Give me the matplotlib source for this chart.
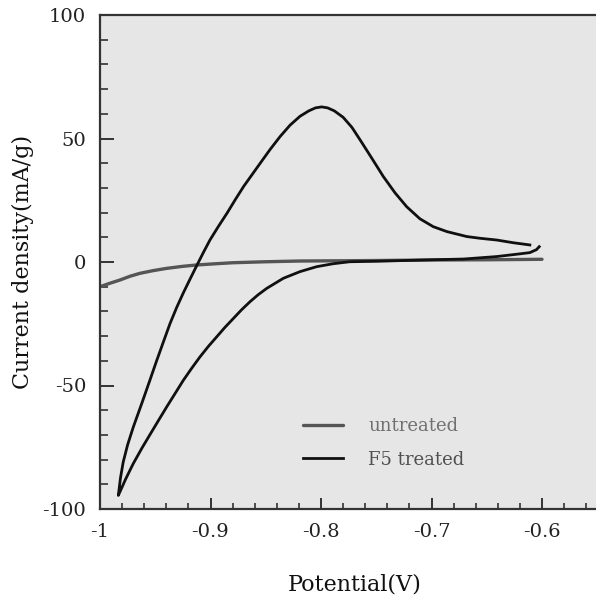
import matplotlib
matplotlib.use("Agg")
import matplotlib.pyplot as plt
from matplotlib.ticker import MultipleLocator, FixedLocator

plt.rcParams['font.family'] = ['DejaVu Serif']
plt.rcParams['axes.unicode_minus'] = False

# Untreated electrode
x_untreated = [-1.0, -0.991, -0.982, -0.973, -0.964, -0.952, -0.94, -0.926, -0.9125, -0.895,
               -0.88, -0.85, -0.819, -0.78, -0.75, -0.70, -0.65, -0.60]
y_untreated = [-10.0, -8.6, -7.3, -5.8, -4.6, -3.5, -2.6, -1.8, -1.2, -0.7,
               -0.3, 0.1, 0.4, 0.5, 0.6, 0.8, 0.9, 1.1]

# F5 treated electrode (upper branch from right end to tip, then lower branch back)
x_f5 = [-0.611, -0.626, -0.641, -0.656, -0.668, -0.686, -0.6984, -0.7105, -0.7225, -0.733,
        -0.7436, -0.754, -0.7647, -0.772, -0.780, -0.788, -0.794, -0.7994, -0.805, -0.811,
        -0.819, -0.828, -0.837, -0.846, -0.855, -0.8625, -0.870, -0.8775, -0.885, -0.893,
        -0.9005, -0.9065, -0.9125, -0.9186, -0.9246, -0.9307, -0.9367, -0.943, -0.949,
        -0.9548, -0.962, -0.970, -0.975, -0.979, -0.9815, -0.9834,
        -0.9800, -0.9767, -0.970, -0.962, -0.9548, -0.947, -0.9397, -0.932, -0.9246, -0.917,
        -0.9095, -0.902, -0.8944, -0.887, -0.8794, -0.872, -0.8643, -0.857, -0.8492, -0.8341,
        -0.819, -0.804, -0.789, -0.774, -0.75, -0.70, -0.671, -0.641, -0.620, -0.611, -0.605,
        -0.6025]
y_f5 = [6.9, 7.8, 8.9, 9.6, 10.3, 12.3, 14.3, 17.5, 22.4, 28.0,
        34.6, 42.0, 49.5, 54.5, 58.6, 61.2, 62.4, 62.8, 62.4, 61.2,
        59.0, 55.4, 50.8, 45.6, 40.0, 35.3, 30.6, 25.3, 19.8, 14.3,
        8.9, 3.8, -1.5, -7.0, -12.5, -18.5, -25.0, -32.8, -40.3,
        -47.8, -57.0, -67.0, -74.0, -81.0, -87.5, -94.5,
        -91.1, -87.8, -81.7, -75.3, -69.9, -64.1, -58.7, -53.2, -47.9, -43.0,
        -38.4, -34.2, -30.3, -26.5, -22.9, -19.4, -16.1, -13.3, -10.7, -6.6,
        -3.9, -1.9, -0.7, 0.1, 0.3, 0.9, 1.2, 2.2, 3.3, 3.8, 5.0,
        6.2]

x_ticks = [-1.0, -0.9, -0.8, -0.7, -0.6]
x_tick_labels = ["-1", "-0.9", "-0.8", "-0.7", "-0.6"]
y_ticks = [-100, -50, 0, 50, 100]
y_tick_labels = ["-100", "-50", "0", "50", "100"]

fig = plt.figure(figsize=(5.96, 6.02), dpi=100)
W, H = 596, 602
ax = fig.add_axes([100 / W, 1 - 509 / H, 496 / W, 494 / H])
ax.set_facecolor('#e6e6e6')

ax.plot(x_untreated, y_untreated, color='#555555', lw=2.4, label='untreated',
        solid_capstyle='round', zorder=2)
ax.plot(x_f5, y_f5, color='#101010', lw=2.0, label='F5 treated',
        solid_joinstyle='round', zorder=3)

ax.set_xlim(-1.0, -1.0 + 496 / 1105)
ax.set_ylim(-100, 100)

ax.xaxis.set_major_locator(FixedLocator(x_ticks))
ax.set_xticklabels(x_tick_labels)
ax.xaxis.set_minor_locator(MultipleLocator(0.02))
ax.yaxis.set_major_locator(FixedLocator(y_ticks))
ax.set_yticklabels(y_tick_labels)
ax.yaxis.set_minor_locator(MultipleLocator(10))

ax.tick_params(axis='both', which='both', direction='in', colors='#333333',
               labelcolor='#222222', labelsize=14)
ax.tick_params(axis='y', which='major', length=10, width=1.4, pad=10)
ax.tick_params(axis='y', which='minor', length=6, width=1.2)
ax.tick_params(axis='x', which='major', length=8, width=1.4, pad=10)
ax.tick_params(axis='x', which='minor', length=4, width=1.2)

for side in ['left', 'bottom', 'top']:
    ax.spines[side].set_color('#333333')
    ax.spines[side].set_linewidth(1.6)
ax.spines['right'].set_visible(False)

ax.set_xlabel('Potential(V)', fontsize=16, color='#111111')
ax.set_ylabel('Current density(mA/g)', fontsize=16, color='#111111')
ax.xaxis.set_label_coords((355 - 100) / 496, (509 - 574) / 494)
ax.yaxis.set_label_coords((34 - 100) / 496, 0.5)

leg = ax.legend(loc='center left', bbox_to_anchor=((303 - 100) / 496, (509 - 443) / 494),
                frameon=False, fontsize=13, handlelength=2.2, handletextpad=1.4,
                labelspacing=0.85, borderpad=0, borderaxespad=0)
for txt, c in zip(leg.get_texts(), ['#707070', '#505050']):
    txt.set_color(c)

fig.savefig('out.png', dpi=100, facecolor='white')
